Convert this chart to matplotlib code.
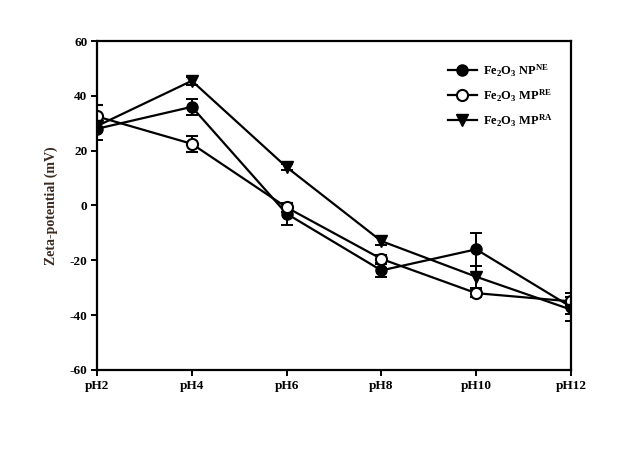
import matplotlib
matplotlib.use("Agg")
import matplotlib.pyplot as plt
from matplotlib.lines import Line2D
import numpy as np

categories = ["pH2", "pH4", "pH6", "pH8", "pH10", "pH12"]
np_ne = [28, 36, -3, -23.7, -16, -37]
np_ne_err = [4, 3, 4, 2.5, 6, 5]
mp_re = [32.5, 22.5, -0.7, -19.5, -32, -35]
mp_re_err = [4, 3, 1.5, 1.5, 1.5, 1.5]
mp_ra = [29, 45.5, 14, -13, -26, -38]
mp_ra_err = [2, 1.5, 1, 1.5, 4, 1.5]
yticks = [-60, -40, -20, 0, 20, 40, 60]
labels = [r'Fe$_\mathrm{2}$O$_\mathrm{3}$ NP$^\mathrm{NE}$',
          r'Fe$_\mathrm{2}$O$_\mathrm{3}$ MP$^\mathrm{RE}$',
          r'Fe$_\mathrm{2}$O$_\mathrm{3}$ MP$^\mathrm{RA}$']

plt.rcParams['font.family'] = ['Liberation Serif', 'DejaVu Serif']
plt.rcParams['mathtext.fontset'] = 'custom'
plt.rcParams['mathtext.rm'] = 'Liberation Serif:bold'
plt.rcParams['mathtext.it'] = 'Liberation Serif:bold'
plt.rcParams['mathtext.bf'] = 'Liberation Serif:bold'

fig = plt.figure(figsize=(6.26, 4.67), dpi=100)
ax = fig.add_axes([0.155, 0.208, 0.757, 0.704])
x = np.arange(len(categories))

common = dict(color='black', lw=1.6, ms=8, capsize=4, elinewidth=1.4, capthick=1.4, mec='black')
ax.errorbar(x, np_ne, yerr=np_ne_err, marker='o', mfc='black', **common)
ax.errorbar(x, mp_re, yerr=mp_re_err, marker='o', mfc='white', mew=1.5, **common)
ax.errorbar(x, mp_ra, yerr=mp_ra_err, marker='v', mfc='black', **common)

ax.set_xlim(0, 5)
ax.set_ylim(-60, 60)
ax.set_xticks(x)
ax.set_xticklabels(categories, fontsize=9.5, fontweight='bold')
ax.set_yticks(yticks)
ax.set_yticklabels([str(v) for v in yticks], fontsize=9.5, fontweight='bold')
ax.tick_params(direction='out', length=4, width=1.4, top=False, right=False, pad=3)
for s in ax.spines.values():
    s.set_linewidth(1.6)
ax.set_ylabel('Zeta-potential (mV)', fontsize=10, fontweight='bold', color='#3a2a20', labelpad=8)

handles = [
    Line2D([], [], color='black', lw=1.6, marker='o', ms=8, mfc='black', mec='black'),
    Line2D([], [], color='black', lw=1.6, marker='o', ms=8, mfc='white', mec='black', mew=1.5),
    Line2D([], [], color='black', lw=1.6, marker='v', ms=8, mfc='black', mec='black'),
]
ax.legend(handles, labels, loc='upper right', bbox_to_anchor=(0.985, 0.97), frameon=False,
          handlelength=2.3, labelspacing=0.7, handletextpad=0.5,
          prop={'family': 'Liberation Serif', 'weight': 'bold', 'size': 9})
fig.savefig('out.png', dpi=100)
